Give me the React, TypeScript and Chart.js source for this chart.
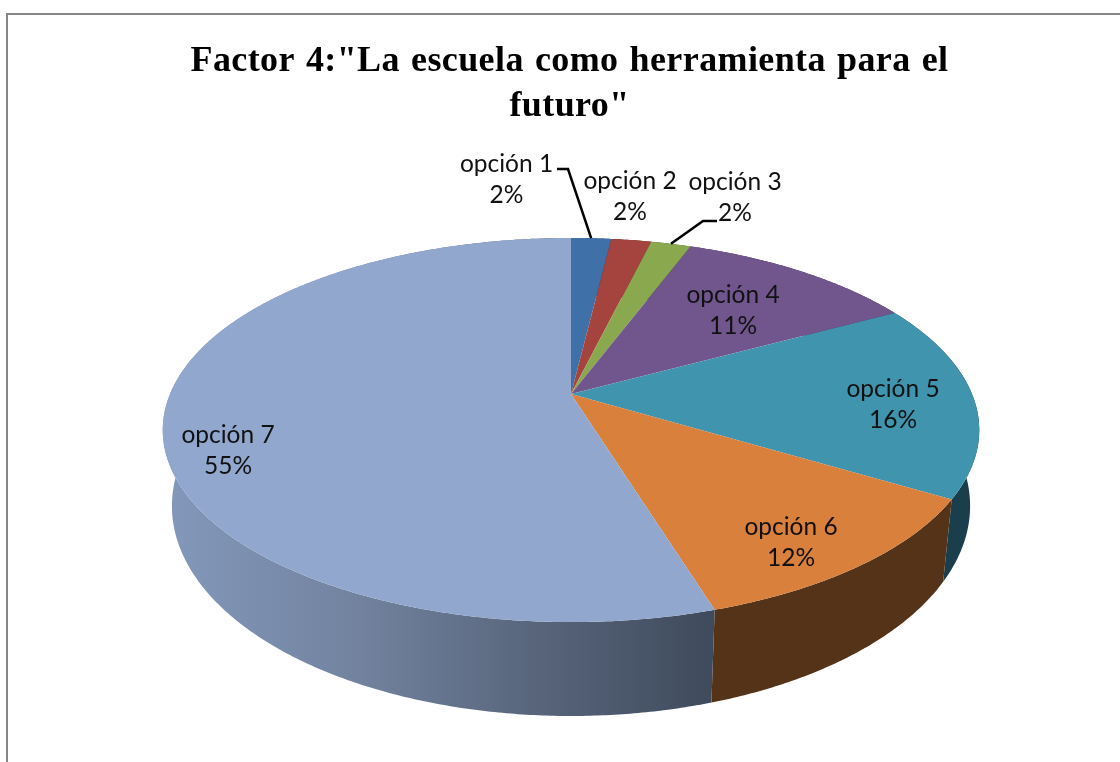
import React, { useEffect, useRef } from "react";
import { Chart, registerables } from "chart.js";

Chart.register(...registerables);

const categories = ["opción 1", "opción 2", "opción 3", "opción 4", "opción 5", "opción 6", "opción 7"];
const seriesValues = [1.9, 1.9, 1.9, 11.4, 16.49, 11.66, 54.75];
const titleLines = ['Factor 4:"La escuela como herramienta para el', 'futuro"'];

const faceColors = ["#4070a8", "#a5433f", "#8aa84e", "#71568e", "#4094ae", "#d8803c", "#92a7ce"];
const sideColors = ["#22395a", "#5a2320", "#4a5a28", "#3b2d4b", "#1a3e4c", "#553318", "#8096b9"];
const labelCentres = [
  [506.5, 164], [630, 181], [735, 182], [733, 295], [893, 389], [791, 527], [228, 435],
];

const top = { cx: 571, cy: 394, R: 401, S: 185.3 };
const bottom = { cx: 571, cy: 466.6, R: 392, S: 202.6 };
const K = -0.1876;

function project(g: typeof top, angle: number) {
  const t = angle + Math.PI / 2;
  const u = Math.sin(t);
  const v = -Math.cos(t);
  const w = 1 + K * v;
  return { x: g.cx + (g.R * u) / w, y: g.cy + (g.S * v) / w };
}

function traceRim(ctx: CanvasRenderingContext2D, g: typeof top, a: number, b: number, move: boolean) {
  const n = Math.max(4, Math.ceil(Math.abs(b - a) * 120));
  for (let i = 0; i <= n; i++) {
    const p = project(g, a + ((b - a) * i) / n);
    if (i === 0 && move) ctx.moveTo(p.x, p.y);
    else ctx.lineTo(p.x, p.y);
  }
}

const perspectivePie = {
  id: "perspectivePie",
  beforeDraw(chart: any) {
    const ctx = chart.ctx;
    ctx.fillStyle = "#ffffff";
    ctx.fillRect(0, 0, chart.width, chart.height);
    ctx.fillStyle = "#868686";
    ctx.fillRect(6, 13, chart.width - 6, 2);
    ctx.fillRect(6, 13, 2, chart.height - 13);
    ctx.wordSpacing = "1.7px";
    ctx.letterSpacing = "0.4px";
  },
  beforeDatasetDraw(chart: any) {
    const ctx = chart.ctx as CanvasRenderingContext2D;
    ctx.wordSpacing = "0px";
    ctx.letterSpacing = "0px";
    const arcs = chart.getDatasetMeta(0).data;
    arcs.forEach((arc: any, i: number) => {
      ctx.beginPath();
      traceRim(ctx, top, arc.startAngle, arc.endAngle, true);
      traceRim(ctx, bottom, arc.endAngle, arc.startAngle, false);
      ctx.closePath();
      if (i === arcs.length - 1) {
        const g = ctx.createLinearGradient(165, 0, 712, 0);
        g.addColorStop(0, "#8398bb");
        g.addColorStop(0.35, "#72839f");
        g.addColorStop(0.7, "#566379");
        g.addColorStop(1, "#3f4a5c");
        ctx.fillStyle = g;
      } else {
        ctx.fillStyle = sideColors[i];
      }
      ctx.fill();
    });
    arcs.forEach((arc: any) => {
      ctx.beginPath();
      ctx.moveTo(top.cx, top.cy);
      traceRim(ctx, top, arc.startAngle, arc.endAngle, false);
      ctx.closePath();
      ctx.fillStyle = arc.options.backgroundColor;
      ctx.fill();
    });
    return false;
  },
  afterDatasetsDraw(chart: any) {
    const ctx = chart.ctx as CanvasRenderingContext2D;
    const arcs = chart.getDatasetMeta(0).data;
    const total = seriesValues.reduce((s, v) => s + v, 0);
    const mid = (i: number) => project(top, (arcs[i].startAngle + arcs[i].endAngle) / 2);

    ctx.save();
    ctx.strokeStyle = "#000000";
    ctx.lineWidth = 2.5;
    const m0 = mid(0);
    ctx.beginPath();
    ctx.moveTo(557, 169);
    ctx.lineTo(568, 169);
    ctx.lineTo(m0.x, m0.y);
    ctx.stroke();
    const m2 = mid(2);
    ctx.beginPath();
    ctx.moveTo(m2.x, m2.y);
    ctx.lineTo(703, 221);
    ctx.lineTo(717, 221);
    ctx.stroke();

    ctx.fillStyle = "#111111";
    ctx.font = "24.5px Lato";
    ctx.textAlign = "center";
    ctx.textBaseline = "middle";
    categories.forEach((c, i) => {
      const [x, y] = labelCentres[i];
      ctx.fillText(c, x, y);
      ctx.fillText(`${Math.round((seriesValues[i] / total) * 100)}%`, x, y + 31);
    });
    ctx.restore();
  },
};

export default function App() {
  const ref = useRef<HTMLCanvasElement>(null);
  useEffect(() => {
    const chart = new Chart(ref.current!, {
      type: "pie",
      data: {
        labels: categories,
        datasets: [{ data: seriesValues, backgroundColor: faceColors, borderWidth: 0 }],
      },
      options: {
        animation: false,
        responsive: false,
        events: [],
        layout: { padding: { left: 19 } },
        plugins: {
          legend: { display: false },
          tooltip: { enabled: false },
          title: {
            display: true,
            text: titleLines,
            color: "#000000",
            font: { family: '"Liberation Serif"', size: 36, weight: "bold", lineHeight: 1.25 },
            padding: { top: 39, bottom: 0 },
          },
        },
      },
      plugins: [perspectivePie],
    } as any);
    return () => chart.destroy();
  }, []);
  return (
    <canvas
      ref={ref}
      width={1120}
      height={762}
      style={{ position: "fixed", left: 0, top: 0, width: 1120, height: 762, filter: "blur(0.5px)" }}
    />
  );
}
